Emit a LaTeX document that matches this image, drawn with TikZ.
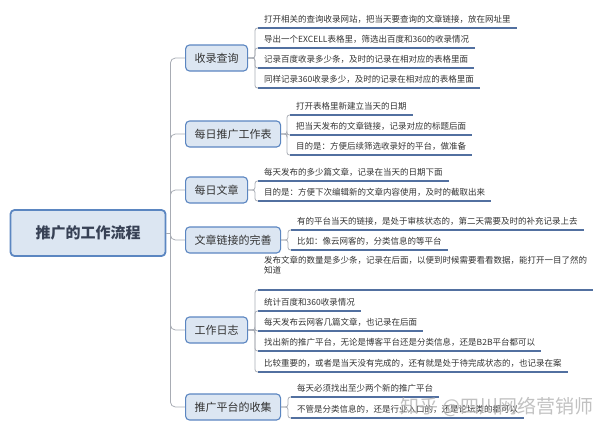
\documentclass[tikz,border=0pt]{standalone}
\usepackage{fontspec}
\setmainfont{Noto Sans CJK SC}
\usepackage{tikz}
\usetikzlibrary{positioning}
\definecolor{mmblue}{RGB}{91,134,193}
\definecolor{mmfill}{RGB}{220,230,242}
\definecolor{mmline}{RGB}{168,172,180}
\definecolor{mmrule}{RGB}{82,112,160}
\definecolor{mmtext}{RGB}{51,51,51}
\definecolor{mmdark}{RGB}{55,65,85}
\definecolor{mmmark}{RGB}{178,178,178}
\tikzset{
    mmnode/.style={rectangle, rounded corners=4pt, draw=mmblue, fill=mmfill, text=mmtext},
    rootnode/.style={mmnode, line width=1.8pt, minimum width=155pt, minimum height=46pt, text=mmdark, font=\fontsize{15}{18}\selectfont\bfseries},
    topicnode/.style={mmnode, line width=1.1pt, minimum height=26pt, inner xsep=9pt, anchor=west, font=\fontsize{11}{13}\selectfont},
    leafnode/.style={anchor=south west, inner xsep=6pt, inner ysep=4pt, text height=7.5pt, text depth=1.5pt, text=mmtext, font=\fontsize{8.5}{10.5}\selectfont},
    mmconn/.style={draw=mmline, line width=0.8pt, rounded corners=5pt},
    leafconn/.style={draw=mmline, line width=0.8pt, rounded corners=2.5pt},
    leafrule/.style={draw=mmrule, line width=1.4pt}
}
\begin{document}
\begin{tikzpicture}[x=1pt, y=-1pt]
                \useasboundingbox (0,0) rectangle (600,431);
                \node[rootnode] (root) at (88,233) {推广的工作流程};
                \node[topicnode] (t1) at (185,58) {收录查询};
                \node[topicnode] (t2) at (185,134) {每日推广工作表};
                \node[topicnode] (t3) at (185,190) {每日文章};
                \node[topicnode] (t4) at (185,240) {文章链接的完善};
                \node[topicnode] (t5) at (185,330) {工作日志};
                \node[topicnode] (t6) at (185,407) {推广平台的收集};
                \node[leafnode] (l11) at (258,28) {打开相关的查询收录网站，把当天要查询的文章链接，放在网址里};
                \node[leafnode] (l12) at (258,48) {导出一个EXCELL表格里，筛选出百度和360的收录情况};
                \node[leafnode] (l13) at (258,68) {记录百度收录多少条，及时的记录在相对应的表格里面};
                \node[leafnode] (l14) at (258,88) {同样记录360收录多少，及时的记录在相对应的表格里面};
                \node[leafnode] (l21) at (290,115) {打开表格里新建立当天的日期};
                \node[leafnode] (l22) at (290,135) {把当天发布的文章链接，记录对应的标题后面};
                \node[leafnode] (l23) at (290,155) {目的是：方便后续筛选收录好的平台，做准备};
                \node[leafnode] (l31) at (258,181) {每天发布的多少篇文章，记录在当天的日期下面};
                \node[leafnode] (l32) at (258,201) {目的是：方便下次编辑新的文章内容使用，及时的截取出来};
                \node[leafnode] (l41) at (291,230) {有的平台当天的链接，是处于审核状态的，第二天需要及时的补充记录上去};
                \node[leafnode] (l42) at (291,250) {比如：像云网客的，分类信息的等平台};
                \node[leafnode, align=left, text depth=12pt] (l51) at (258,290) {发布文章的数量是多少条，记录在后面，以便到时候需要看看数据，能打开一目了然的\\知道};
                \node[leafnode] (l52) at (258,311) {统计百度和360收录情况};
                \node[leafnode] (l53) at (258,331) {每天发布云网客几篇文章，也记录在后面};
                \node[leafnode] (l54) at (258,351) {找出新的推广平台，无论是博客平台还是分类信息，还是B2B平台都可以};
                \node[leafnode] (l55) at (258,372) {比较重要的，或者是当天没有完成的，还有就是处于待完成状态的，也记录在案};
                \node[leafnode] (l61) at (291,397) {每天必须找出至少两个新的推广平台};
                \node[leafnode] (l62) at (291,418) {不管是分类信息的，还是行业入口的，还是论坛类的都可以};
                \coordinate (hub) at ([xshift=4pt]root.east);
                \draw[mmconn] (root.east) -- (hub);
                \foreach \t in {t1,t2,t3,t4,t5,t6}
                    \draw[mmconn] (hub) |- (\t.west);
                \foreach \t/\l in {t1/l11,t1/l12,t1/l13,t1/l14,t2/l21,t2/l22,t2/l23,t3/l31,t3/l32,t4/l41,t4/l42,t5/l51,t5/l52,t5/l53,t5/l54,t5/l55,t6/l61,t6/l62}
                    \draw[leafconn] (\t.east) -| ([xshift=-3pt]\l.south west) -- (\l.south west);
                \foreach \l in {l11,l12,l13,l14,l21,l22,l23,l31,l32,l41,l42,l51,l52,l53,l54,l55,l61,l62}
                    \draw[leafrule] (\l.south west) -- (\l.south east);
                \node[text=mmmark, opacity=0.8, font=\fontsize{19}{22}\selectfont] (mark) at (497,407) {知乎 @四川网络营销师};
            \end{tikzpicture}
\end{document}
